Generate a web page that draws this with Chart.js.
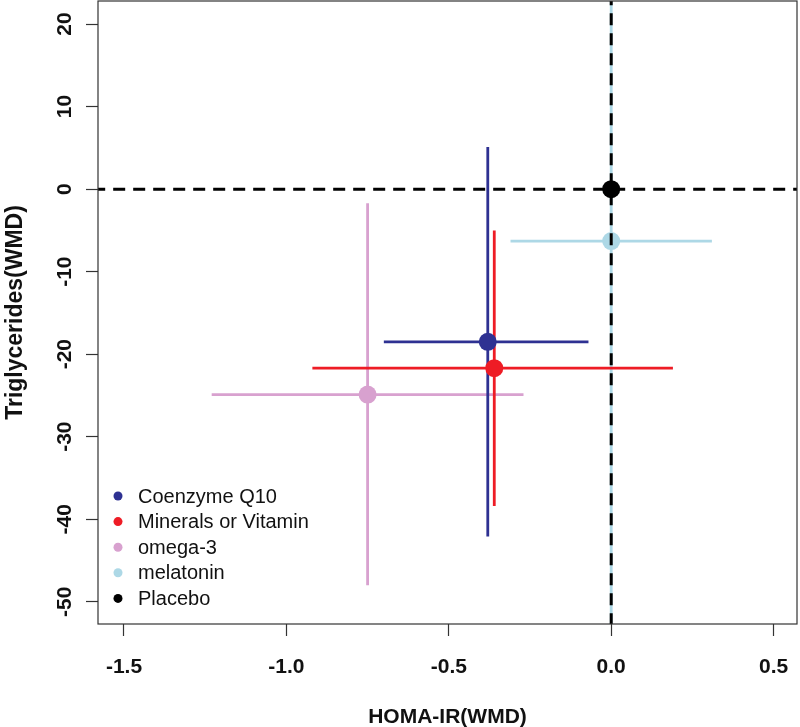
<!DOCTYPE html>
<html>
<head>
<meta charset="utf-8">
<script src="https://cdn.jsdelivr.net/npm/chart.js@4.4.1/dist/chart.umd.min.js"></script>
<style>
  html, body { margin: 0; padding: 0; background: #fff; }
  #wrap { width: 800px; height: 727px; }
</style>
</head>
<body>
<div id="wrap"><canvas id="scatterChart"></canvas></div>
<script>
// groups and their WMD estimates with 95% CI
const groups = ['Coenzyme Q10', 'Minerals or Vitamin', 'omega-3', 'melatonin', 'Placebo'];
const groupColors = ['#2e3192', '#ee1c25', '#d8a1cf', '#add8e6', '#000000'];
const homaMean = [-0.38, -0.36, -0.75, 0, 0];
const homaLow = [-0.70, -0.92, -1.23, -0.31, null];
const homaHigh = [-0.07, 0.19, -0.27, 0.31, null];
const tgMean = [-18.5, -21.7, -24.9, -6.3, 0];
const tgLow = [-42.1, -38.4, -48.0, -60, null];
const tgHigh = [5.1, -5.0, -1.7, 30, null];

const xTicks = [-1.5, -1.0, -0.5, 0.0, 0.5];
const yTicks = [-50, -40, -30, -20, -10, 0, 10, 20];
const xLimits = [-1.58, 0.572];
const yLimits = [-52.7, 22.8];

const FONT = '"Liberation Sans", Arial, sans-serif';

const datasets = [];
// reference lines (drawn on top, so first)
datasets.push({
  data: [{ x: 0, y: yLimits[0] - 5 }, { x: 0, y: yLimits[1] + 5 }],
  showLine: true, borderColor: '#000', borderWidth: 3, borderDash: [12, 8], pointRadius: 0
});
datasets.push({
  data: [{ x: xLimits[0] - 1, y: 0 }, { x: xLimits[1] + 1, y: 0 }],
  showLine: true, borderColor: '#000', borderWidth: 3, borderDash: [12, 8], pointRadius: 0
});
// point estimates
groups.forEach((g, i) => {
  datasets.push({
    label: g,
    data: [{ x: homaMean[i], y: tgMean[i] }],
    backgroundColor: groupColors[i], borderWidth: 0, pointRadius: 9, pointHoverRadius: 9
  });
});
// CI segments
groups.forEach((g, i) => {
  if (homaLow[i] !== null) {
    datasets.push({
      data: [{ x: homaLow[i], y: tgMean[i] }, { x: homaHigh[i], y: tgMean[i] }],
      showLine: true, borderColor: groupColors[i], borderWidth: 2.8, pointRadius: 0
    });
  }
  if (tgLow[i] !== null) {
    datasets.push({
      data: [{ x: homaMean[i], y: tgLow[i] }, { x: homaMean[i], y: tgHigh[i] }],
      showLine: true, borderColor: groupColors[i], borderWidth: 2.8, pointRadius: 0
    });
  }
});

// box around plot + legend inside bottom-left
const boxAndLegend = {
  id: 'boxAndLegend',
  afterDraw(chart) {
    const { ctx, chartArea: a } = chart;
    ctx.save();
    ctx.strokeStyle = '#333';
    ctx.lineWidth = 1.2;
    ctx.strokeRect(a.left, a.top, a.right - a.left, a.bottom - a.top);
    ctx.font = '20px ' + FONT;
    ctx.textBaseline = 'middle';
    ctx.textAlign = 'left';
    groups.forEach((g, i) => {
      const y = a.bottom - 128 + i * 25.6;
      ctx.fillStyle = groupColors[i];
      ctx.beginPath();
      ctx.arc(a.left + 20, y, 4.5, 0, Math.PI * 2);
      ctx.fill();
      ctx.fillStyle = '#111';
      ctx.fillText(g, a.left + 40, y + 1);
    });
    ctx.restore();
  }
};

const noPad = (s) => { s.paddingTop = 0; s.paddingBottom = 0; s.paddingLeft = 0; s.paddingRight = 0; };

new Chart(document.getElementById('scatterChart'), {
  type: 'scatter',
  data: { datasets },
  plugins: [boxAndLegend],
  options: {
    responsive: true,
    maintainAspectRatio: false,
    animation: false,
    devicePixelRatio: 1,
    layout: { autoPadding: false, padding: { top: 1, right: 3, left: 0, bottom: 0 } },
    plugins: { legend: { display: false }, tooltip: { enabled: false } },
    scales: {
      x: {
        type: 'linear',
        min: xLimits[0],
        max: xLimits[1],
        afterBuildTicks: (s) => { s.ticks = xTicks.map(v => ({ value: v })); },
        afterFit: (s) => { s.height = 103; noPad(s); },
        border: { display: false },
        grid: { drawOnChartArea: false, drawTicks: true, tickLength: 12, color: '#333', tickWidth: 1.2 },
        ticks: {
          font: { family: FONT, size: 21, weight: 'bold' }, color: '#111', padding: 19,
          callback: (v) => Number(v).toFixed(1)
        },
        title: {
          display: true, text: 'HOMA-IR(WMD)', color: '#111',
          font: { family: FONT, size: 21, weight: 'bold' }, padding: { top: 0, bottom: -3 }
        }
      },
      y: {
        type: 'linear',
        min: yLimits[0],
        max: yLimits[1],
        afterBuildTicks: (s) => { s.ticks = yTicks.map(v => ({ value: v })); },
        afterFit: (s) => { s.width = 98; noPad(s); },
        border: { display: false },
        grid: { drawOnChartArea: false, drawTicks: true, tickLength: 12, color: '#333', tickWidth: 1.2 },
        ticks: {
          font: { family: FONT, size: 21, weight: 'bold' }, color: '#111',
          minRotation: 90, maxRotation: 90, crossAlign: 'center', padding: 6,
          callback: (v) => String(v)
        },
        title: {
          display: true, text: 'Triglycerides(WMD)', color: '#111',
          font: { family: FONT, size: 23, weight: 'bold' }, padding: { top: 2, bottom: 0 }
        }
      }
    }
  }
});
</script>
</body>
</html>
